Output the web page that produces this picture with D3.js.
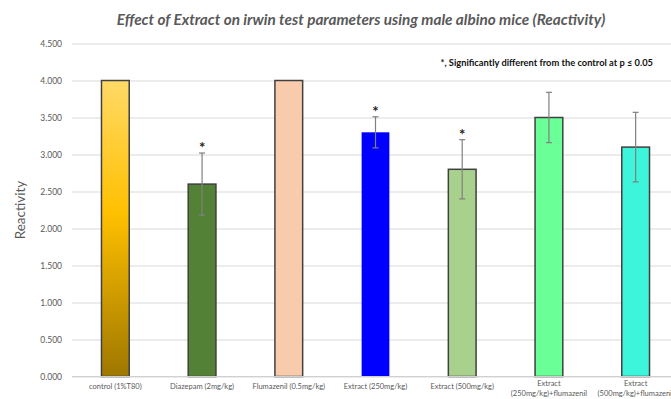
<!DOCTYPE html>
<html>
<head>
<meta charset="utf-8">
<script src="https://cdn.jsdelivr.net/npm/d3@7"></script>
<style>
  html, body { margin: 0; padding: 0; background: #fff; overflow: hidden; }
  svg { display: block; }
  text { font-family: Lato, "Open Sans", sans-serif; }
</style>
</head>
<body>
<svg id="chart" width="671" height="399"></svg>
<script>
// Reactivity scores per treatment group (mean ± SD)
const categories = [
  "control (1%T80)",
  "Diazepam (2mg/kg)",
  "Flumazenil (0.5mg/kg)",
  "Extract (250mg/kg)",
  "Extract (500mg/kg)",
  "Extract\n(250mg/kg)+flumazenil",
  "Extract\n(500mg/kg)+flumazenil"
];
const means = [4.0, 2.6, 4.0, 3.3, 2.8, 3.5, 3.1];
const errors = [0, 0.42, 0, 0.21, 0.40, 0.34, 0.47];
const significant = [false, true, false, true, true, false, false];
const fills = ["url(#gold)", "#538135", "#F8CBAD", "#0000FF", "#A9D18E", "#6BFF98", "#3CF5DA"];
const yTicks = [0, 0.5, 1.0, 1.5, 2.0, 2.5, 3.0, 3.5, 4.0, 4.5];

const svg = d3.select("#chart");
const margin = { left: 72, right: -8, top: 43.5, bottom: 22.5 };
const W = 671, H = 399;

const x = d3.scaleBand()
  .domain(categories)
  .range([margin.left, W - margin.right])
  .paddingInner(0.68)
  .paddingOuter(0.34);

const y = d3.scaleLinear()
  .domain([0, 4.5])
  .range([H - margin.bottom, margin.top]);

// gradient fill for the control bar
const defs = svg.append("defs");
const grad = defs.append("linearGradient").attr("id", "gold")
  .attr("x1", 0).attr("y1", 0).attr("x2", 0).attr("y2", 1);
grad.append("stop").attr("offset", "0%").attr("stop-color", "#FFD966");
grad.append("stop").attr("offset", "45%").attr("stop-color", "#FFC000");
grad.append("stop").attr("offset", "100%").attr("stop-color", "#9E7700");

// title
svg.append("text")
  .attr("x", 361).attr("y", 25)
  .attr("text-anchor", "middle")
  .attr("font-size", 15.3)
  .attr("font-weight", "bold")
  .attr("font-style", "italic")
  .attr("fill", "#595959")
  .text("Effect of Extract on irwin test parameters using male albino mice (Reactivity)");

// gridlines + y axis labels
const yAxis = d3.axisLeft(y)
  .tickValues(yTicks)
  .tickFormat(d3.format(".3f"))
  .tickSize(-(W - margin.left))
  .tickPadding(10);

const gy = svg.append("g")
  .attr("transform", `translate(${margin.left},0)`)
  .call(yAxis);
gy.select(".domain").remove();
gy.selectAll(".tick line").attr("stroke", "#D9D9D9").attr("stroke-width", 1);
gy.selectAll(".tick text")
  .attr("fill", "#595959")
  .attr("font-size", 8.5)
  .attr("font-family", "Lato, sans-serif");

// y axis title
svg.append("text")
  .attr("transform", `translate(25,${y(2.25)}) rotate(-90)`)
  .attr("text-anchor", "middle")
  .attr("font-size", 13.5)
  .attr("fill", "#595959")
  .text("Reactivity");

// bars
svg.append("g").selectAll("rect")
  .data(categories)
  .join("rect")
  .attr("x", d => x(d))
  .attr("width", x.bandwidth())
  .attr("y", (d, i) => y(means[i]))
  .attr("height", (d, i) => y(0) - y(means[i]))
  .attr("fill", (d, i) => fills[i])
  .attr("stroke", (d, i) => i === 3 ? "none" : "#404040")
  .attr("stroke-width", 1.5);

// baseline
svg.append("line")
  .attr("x1", margin.left).attr("x2", W)
  .attr("y1", y(0)).attr("y2", y(0))
  .attr("stroke", "#D0D0D0");

// error bars
const eb = svg.append("g").attr("stroke", "#808080").attr("stroke-width", 1.2);
categories.forEach((c, i) => {
  if (!errors[i]) return;
  const cx = x(c) + x.bandwidth() / 2;
  const hi = y(means[i] + errors[i]), lo = y(means[i] - errors[i]);
  eb.append("line").attr("x1", cx).attr("x2", cx).attr("y1", hi).attr("y2", lo);
  eb.append("line").attr("x1", cx - 3).attr("x2", cx + 3).attr("y1", hi).attr("y2", hi);
  eb.append("line").attr("x1", cx - 3).attr("x2", cx + 3).attr("y1", lo).attr("y2", lo);
});

// significance markers
svg.append("g").selectAll("text")
  .data(categories.filter((c, i) => significant[i]))
  .join("text")
  .attr("x", c => x(c) + x.bandwidth() / 2)
  .attr("y", c => {
    const i = categories.indexOf(c);
    return y(means[i] + errors[i]);
  })
  .attr("text-anchor", "middle")
  .attr("font-size", 15)
  .attr("font-weight", "bold")
  .attr("fill", "#222")
  .text("*");

// significance note
svg.append("text")
  .attr("x", 653).attr("y", 66)
  .attr("text-anchor", "end")
  .attr("font-size", 9.3)
  .attr("font-weight", "bold")
  .attr("fill", "#111")
  .text("*, Significantly different from the control at p \u2264 0.05");

// category labels
const xl = svg.append("g");
categories.forEach(c => {
  const lines = c.split("\n");
  const cx = x(c) + x.bandwidth() / 2;
  const t = xl.append("text")
    .attr("x", cx)
    .attr("y", lines.length === 1 ? 389 : 386)
    .attr("text-anchor", "middle")
    .attr("font-size", 7.5)
    .attr("fill", "#595959");
  lines.forEach((ln, k) => {
    t.append("tspan").attr("x", cx).attr("dy", k === 0 ? 0 : 9.5).text(ln);
  });
});
</script>
</body>
</html>
